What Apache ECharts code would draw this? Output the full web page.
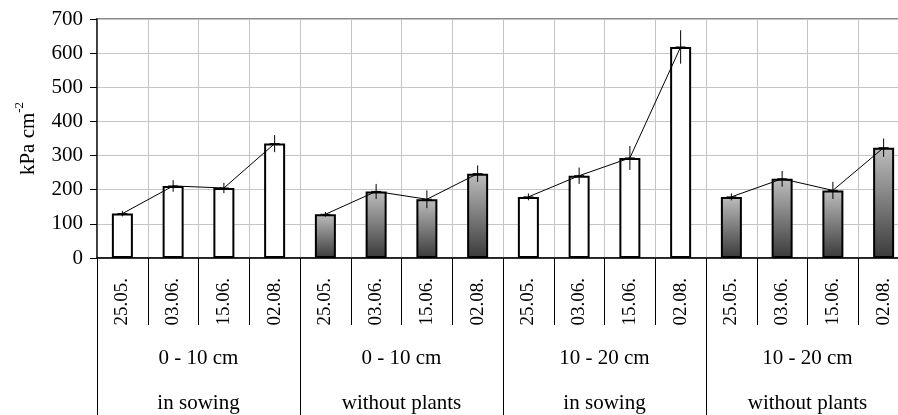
<!DOCTYPE html>
<html>
<head>
<meta charset="utf-8">
<script src="https://cdn.jsdelivr.net/npm/echarts@6/dist/echarts.min.js"></script>
<style>
html,body{margin:0;padding:0;background:#fff;}
#chart{width:898px;height:415px;}
</style>
</head>
<body>
<div id="chart"></div>
<script>
// ---- data ----
const dates = ['25.05.', '03.06.', '15.06.', '02.08.'];
const depths = ['0 - 10 cm', '0 - 10 cm', '10 - 20 cm', '10 - 20 cm'];
const treatments = ['in sowing', 'without plants', 'in sowing', 'without plants'];

const inSowing0_10 = [130, 211, 205, 335];
const withoutPlants0_10 = [128, 195, 172, 247];
const inSowing10_20 = [179, 241, 293, 618];
const withoutPlants10_20 = [179, 232, 198, 323];

const errInSowing0_10 = [8, 17, 15, 25];
const errWithoutPlants0_10 = [7, 22, 26, 24];
const errInSowing10_20 = [10, 24, 35, 49];
const errWithoutPlants10_20 = [10, 23, 25, 27];

const yMin = 0, yMax = 700, yStep = 100;

// ---- build ----
const groupValues = [inSowing0_10, withoutPlants0_10, inSowing10_20, withoutPlants10_20];
const groupErrors = [errInSowing0_10, errWithoutPlants0_10, errInSowing10_20, errWithoutPlants10_20];

const FONT = 'Liberation Serif';
const FS = 21;
const FS_DATE = 19;

const cats = [];
const barData = [];
const errData = [];
groupValues.forEach((vals, g) => {
  vals.forEach((v, i) => {
    const idx = cats.length;
    cats.push(g + '|' + dates[i]);
    const shaded = treatments[g] === 'without plants';
    barData.push({
      value: v,
      itemStyle: {
        color: shaded ? new echarts.graphic.LinearGradient(0, 0, 0, 1, [
          {offset: 0, color: '#bdbdbd'},
          {offset: 1, color: '#3a3a3a'}
        ]) : '#ffffff'
      }
    });
    errData.push([idx, v, groupErrors[g][i]]);
  });
});

const lineSeries = groupValues.map((vals, g) => {
  const d = cats.map(() => '-');
  vals.forEach((v, i) => { d[g * dates.length + i] = v; });
  return {
    type: 'line', xAxisIndex: 0, yAxisIndex: 0, data: d,
    symbol: 'none', z: 5,
    lineStyle: {color: '#000', width: 1},
    animation: false
  };
});

const groupCats = depths.map((d, g) => g + '|' + d + '\n' + treatments[g]);

const chart = echarts.init(document.getElementById('chart'), null, {renderer: 'canvas'});
chart.setOption({
  animation: false,
  backgroundColor: '#fff',
  grid: {left: 97, top: 19, width: 812, height: 239, containLabel: false, outerBoundsMode: 'none',
    show: true, borderColor: '#8a8a8a', borderWidth: 2, backgroundColor: 'transparent'},
  xAxis: [
    {
      type: 'category', data: cats, boundaryGap: true, position: 'bottom',
      axisLine: {show: true, lineStyle: {color: '#000', width: 1.5}},
      axisTick: {show: true, length: 67, interval: 0, lineStyle: {color: '#000', width: 1}},
      axisLabel: {interval: 0, rotate: 90, margin: 20, color: '#000', fontFamily: FONT, fontSize: FS_DATE,
        formatter: v => v.split('|')[1]},
      splitLine: {show: true, interval: 0, lineStyle: {color: '#c4c4c4', width: 1}}
    },
    {
      type: 'category', data: groupCats, boundaryGap: true, position: 'bottom',
      axisLine: {show: false},
      axisTick: {show: true, length: 160, interval: 0, lineStyle: {color: '#000', width: 1}},
      axisLabel: {interval: 0, margin: 78, color: '#000', fontFamily: FONT, fontSize: FS, lineHeight: 45,
        formatter: v => v.split('|')[1]},
      splitLine: {show: false}
    }
  ],
  yAxis: {
    type: 'value', min: yMin, max: yMax, interval: yStep,
    name: '{a|kPa cm}{s|-2}', nameLocation: 'middle', nameGap: 58, nameRotate: 90,
    nameTextStyle: {
      rich: {
        a: {fontFamily: FONT, fontSize: FS, color: '#000', lineHeight: 26, verticalAlign: 'bottom'},
        s: {fontFamily: FONT, fontSize: 13, color: '#000', lineHeight: 26, verticalAlign: 'top'}
      }
    },
    axisLine: {show: true, lineStyle: {color: '#222', width: 1.5}},
    axisTick: {show: true, length: 7, lineStyle: {color: '#000', width: 1}},
    axisLabel: {margin: 14, color: '#000', fontFamily: FONT, fontSize: FS},
    splitLine: {show: true, lineStyle: {color: '#c4c4c4', width: 1}}
  },
  series: [
    {
      type: 'bar', xAxisIndex: 0, yAxisIndex: 0, data: barData, barWidth: 21, z: 3,
      itemStyle: {borderColor: '#000', borderWidth: 2}
    },
    ...lineSeries,
    {
      type: 'custom', xAxisIndex: 0, yAxisIndex: 0, data: errData, z: 6,
      renderItem: function (params, api) {
        const x = api.value(0), v = api.value(1), e = api.value(2);
        const top = api.coord([x, v + e]);
        const bot = api.coord([x, v - e]);
        const mid = api.coord([x, v]);
        return {
          type: 'group',
          children: [
            {type: 'line', shape: {x1: top[0], y1: top[1], x2: bot[0], y2: bot[1]}, style: {stroke: '#000', lineWidth: 1}},
            {type: 'line', shape: {x1: mid[0] - 5, y1: mid[1], x2: mid[0] + 5, y2: mid[1]}, style: {stroke: '#000', lineWidth: 1}}
          ]
        };
      }
    }
  ]
});
</script>
</body>
</html>
